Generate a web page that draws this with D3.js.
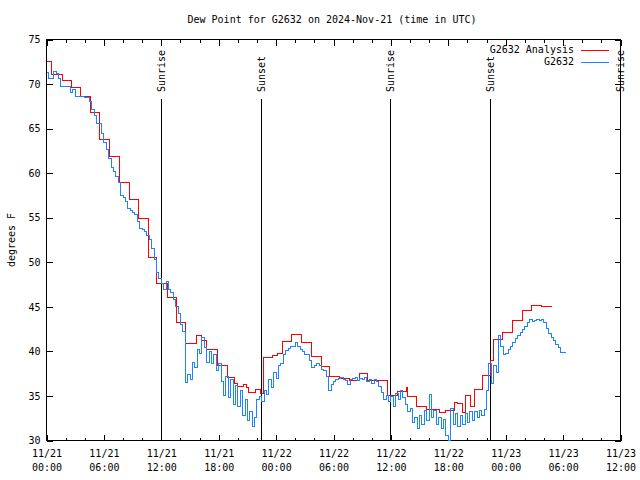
<!DOCTYPE html>
<html><head><meta charset="utf-8">
<script src="https://cdn.jsdelivr.net/npm/d3@7"></script>
<style>
body{margin:0;background:#fff}
svg text{font-family:"DejaVu Sans Mono","Liberation Mono",monospace;font-size:10px;fill:#000}
</style>
</head><body>
<svg id="chart" width="640" height="480"></svg>
<script>
const titleText = "Dew Point for G2632 on 2024-Nov-21 (time in UTC)";
const yAxisLabel = "degrees F";
const xTickHours = [0,6,12,18,24,30,36,42,48,54,60];
const xTickDates = ["11/21","11/21","11/21","11/21","11/22","11/22","11/22","11/22","11/23","11/23","11/23"];
const xTickTimes = ["00:00","06:00","12:00","18:00","00:00","06:00","12:00","18:00","00:00","06:00","12:00"];
const yTicks = [30,35,40,45,50,55,60,65,70,75];
const seriesNames = ["G2632 Analysis","G2632"];

const analysisHours = [0,0.55,1.64,2.61,3.57,4.57,5.59,6.62,7.59,8.68,9.65,10.63,11.53,12.68,13.62,14.53,15.65,16.17,16.69,17.91,18.97,19.65,20.0,20.62,20.87,21.15,21.85,22.37,22.71,23.65,24.11,24.67,25.64,26.62,27.67,28.71,29.58,30.63,31.67,32.72,33.58,35.61,36.66,37.6,37.77,38.64,39.69,41.08,41.67,42.65,42.99,43.51,43.76,44.29,44.74,45.6,46.38,46.75,47.7,48.74,49.72,50.73,51.71,52.75];
const analysisValues = [72.5,71.1,70.4,69.6,68.6,66.8,63.8,61.9,58.9,57.1,54.9,50.55,47.6,46.0,43.2,40.9,41.75,41.25,40.2,38.4,37.05,36.45,36.04,36.26,36.0,35.37,35.74,35.3,39.3,39.5,39.75,41.06,41.9,41.0,39.45,38.25,37.2,36.94,36.75,37.5,36.75,35.1,35.5,35.9,34.9,33.8,33.5,33.1,33.4,34.3,34.1,33.1,35.06,33.86,35.7,37.3,39.0,41.3,42.1,43.5,44.6,45.15,45.07,45.07];

const obsStepHours = 0.25;
const obsValues = [71.25,70.6,70.6,71.4,71.2,70.6,69.7,69.7,69.7,69.7,69.1,69.4,68.6,68.6,68.6,68.6,68.5,68.5,68.0,67.2,66.5,65.6,65.6,64.4,63.4,62.6,61.6,60.6,
60.2,59.6,59.0,57.5,57.3,56.8,56.0,55.8,55.6,55.4,54.6,53.8,53.7,53.4,53.0,52.6,51.5,50.3,48.8,48.2,47.6,47.0,47.8,47.0,46.6,45.8,45.0,
44.2,43.0,42.2,36.5,37.4,36.9,38.8,38.2,40.2,39.8,41.6,40.4,38.8,40.0,38.6,39.6,37.8,38.6,36.6,35.0,37.2,34.8,36.8,34.0,36.2,33.8,35.6,32.8,34.6,32.2,33.2,31.6,32.6,34.6,34.9,
34.4,35.6,35.2,36.8,36.0,37.6,37.0,38.4,38.6,39.7,40.1,40.3,40.5,40.6,41.0,40.6,40.2,40.0,39.7,39.6,39.0,38.2,38.4,38.6,38.4,38.0,37.8,37.2,35.6,36.3,36.6,36.8,37.0,37.1,36.9,36.7,36.3,36.8,37.0,37.1,36.7,37.0,36.8,37.1,36.6,36.9,36.4,36.8,36.6,36.1,35.4,34.6,35.1,34.4,
34.9,33.8,35.3,34.6,35.6,34.8,34.0,33.2,33.6,32.0,32.6,31.4,32.8,31.8,33.4,32.2,35.2,32.6,33.4,31.8,32.6,31.4,32.4,30.6,30.0,33.6,31.8,33.0,31.6,32.8,31.8,33.0,32.0,33.2,32.2,33.2,32.6,33.4,32.8,33.5,35.6,38.6,36.4,38.4,37.6,41.8,40.5,39.6,39.8,40.2,40.6,41.0,41.4,41.8,42.1,42.5,42.8,43.2,43.6,43.4,43.5,43.6,43.5,43.6,43.2,42.6,42.0,41.6,41.2,40.8,40.4,39.9,39.9,39.9];

const sunHours = [11.97,22.47,35.96,46.41,60.0];
const sunLabels = ["Sunrise","Sunset","Sunrise","Sunset","Sunrise"];

const colors = {analysis:"#ff0000", obs:"#1a85ff"};
const svg = d3.select("#chart");
const L = 46.5, R = 620.5, T = 39.5, B = 440.5;
const x = d3.scaleLinear().domain([0,60]).range([L,R]);
const y = d3.scaleLinear().domain([30,75]).range([B,T]);
const px = v => Math.round(v - 0.5) + 0.5;

svg.append("clipPath").attr("id","plotclip").append("rect")
  .attr("x",L).attr("y",T).attr("width",R-L).attr("height",B-T+1);

const minorHours = d3.range(0,61,2).filter(h=>h%6!==0);
svg.append("g").attr("transform",`translate(0,${B})`)
  .call(d3.axisBottom(x).tickValues(minorHours).tickSizeInner(-3).tickSizeOuter(0).tickFormat(""))
  .call(g=>g.select(".domain").remove());
svg.append("g").attr("transform",`translate(0,${T})`)
  .call(d3.axisTop(x).tickValues(minorHours).tickSizeInner(-3).tickSizeOuter(0).tickFormat(""))
  .call(g=>g.select(".domain").remove());

const xb = svg.append("g").attr("transform",`translate(0,${B})`)
  .call(d3.axisBottom(x).tickValues(xTickHours).tickSizeInner(-6).tickSizeOuter(0).tickFormat(""))
  .call(g=>g.select(".domain").remove());
xb.selectAll(".tick").each(function(d,i){
  const g = d3.select(this);
  g.select("text").remove();
  g.append("text").attr("y",13).attr("dy","0.35em").attr("text-anchor","middle").text(xTickDates[i]);
  g.append("text").attr("y",27).attr("dy","0.35em").attr("text-anchor","middle").text(xTickTimes[i]);
});
svg.append("g").attr("transform",`translate(0,${T})`)
  .call(d3.axisTop(x).tickValues(xTickHours).tickSizeInner(-6).tickSizeOuter(0).tickFormat(""))
  .call(g=>g.select(".domain").remove());

svg.append("g").attr("transform",`translate(${L},0)`)
  .call(d3.axisLeft(y).tickValues(yTicks).tickSizeInner(-6).tickSizeOuter(0).tickPadding(6).tickFormat(d3.format("d")))
  .call(g=>g.select(".domain").remove());
svg.append("g").attr("transform",`translate(${R},0)`)
  .call(d3.axisRight(y).tickValues(yTicks).tickSizeInner(-6).tickSizeOuter(0).tickFormat(""))
  .call(g=>g.select(".domain").remove());

svg.selectAll(".tick line").attr("stroke","#000").attr("shape-rendering","crispEdges");
svg.selectAll(".tick text").attr("font-size",null).attr("font-family",null).attr("fill","#000");

svg.append("rect").attr("x",L).attr("y",T).attr("width",R-L).attr("height",B-T)
  .attr("fill","none").attr("stroke","#000").attr("shape-rendering","crispEdges");

const sun = svg.append("g");
sunHours.forEach((h,i)=>{
  const sx = px(x(h));
  sun.append("line").attr("x1",sx).attr("x2",sx)
    .attr("y1",99).attr("y2",B).attr("stroke","#000").attr("shape-rendering","crispEdges");
  sun.append("text").attr("transform",`translate(${x(h)},92) rotate(-90)`)
    .attr("dy","0.35em").attr("text-anchor","start").text(sunLabels[i]);
});

const analysisPts = analysisHours.map((h,i)=>[h,analysisValues[i]]);
const obsPts = obsValues.map((v,i)=>[i*obsStepHours,v]);
const lineGen = d3.line().x(d=>px(x(d[0]))).y(d=>px(y(d[1]))).curve(d3.curveStepAfter);
const plot = svg.append("g").attr("clip-path","url(#plotclip)");
plot.append("path").attr("d",lineGen(analysisPts)).attr("fill","none")
  .attr("stroke",colors.analysis).attr("stroke-width",1).attr("shape-rendering","crispEdges");
plot.append("path").attr("d",lineGen(obsPts)).attr("fill","none")
  .attr("stroke",colors.obs).attr("stroke-width",1).attr("shape-rendering","crispEdges");

const legendColors = [colors.analysis, colors.obs];
seriesNames.forEach((n,i)=>{
  const ly = 49.5 + i*12;
  svg.append("text").attr("x",574).attr("y",ly).attr("dy","0.35em").attr("text-anchor","end").text(n);
  svg.append("line").attr("x1",581).attr("x2",609).attr("y1",Math.round(ly)+0.5).attr("y2",Math.round(ly)+0.5)
    .attr("stroke",legendColors[i]).attr("shape-rendering","crispEdges");
});

svg.append("text").attr("x",332).attr("y",19).attr("dy","0.35em").attr("text-anchor","middle").text(titleText);
svg.append("text").attr("transform","translate(11,240) rotate(-90)").attr("dy","0.35em")
  .attr("text-anchor","middle").text(yAxisLabel);
</script>
</body></html>
